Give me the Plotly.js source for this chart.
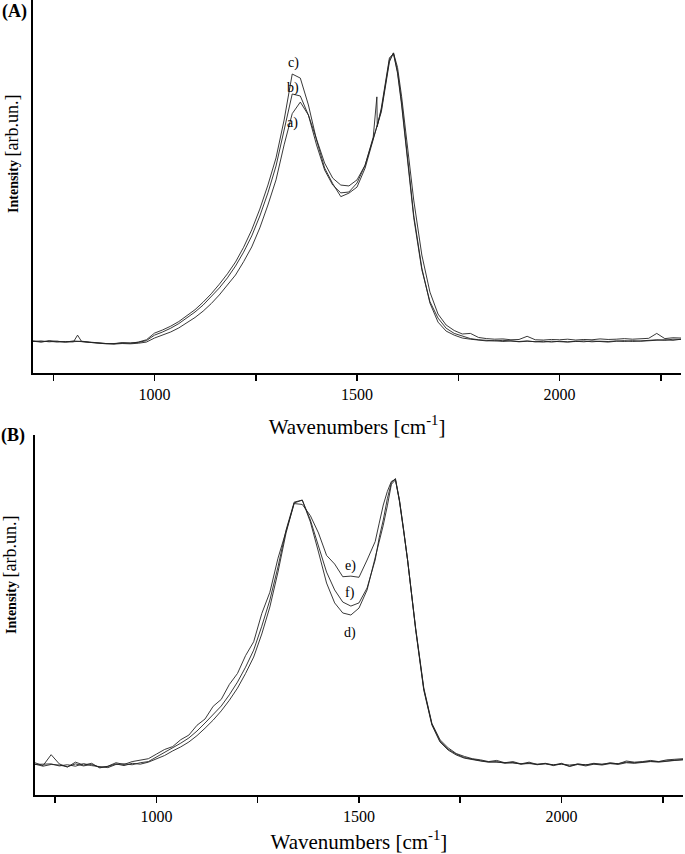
<!DOCTYPE html>
<html>
<head>
<meta charset="utf-8">
<script src="https://cdn.plot.ly/plotly-3.0.1.min.js"></script>
<style>
  html, body { margin: 0; padding: 0; background: #fff; }
  #ramanPlot { width: 685px; height: 854px; }
</style>
</head>
<body>
<div id="ramanPlot"></div>
<script>
// panel (A): spectra a), b), c), normalised to the G band
const wavenumbersA = [
  700, 720, 740, 760, 780, 800, 810, 820, 840, 860, 880, 900, 920, 940, 960, 980,
  1000, 1020, 1040, 1060, 1080, 1100, 1120, 1140, 1160, 1180,
  1200, 1220, 1240, 1260, 1280, 1300, 1320, 1340, 1360, 1380,
  1400, 1420, 1440, 1460, 1480, 1500, 1520, 1540, 1549, 1550, 1560, 1570, 1580, 1590, 1600, 1610, 1620, 1640, 1660, 1680,
  1700, 1720, 1740, 1760, 1780, 1800, 1820, 1840, 1860, 1880, 1900, 1920, 1940, 1960, 1980,
  2000, 2020, 2040, 2060, 2080, 2100, 2120, 2140, 2160, 2180, 2200, 2220, 2240, 2260, 2280, 2300,
];
const spectrumA_a = [
  0.004, 0.001, 0.003, 0.000, 0.002, 0.001, 0.024, 0.002, -0.001, -0.003, -0.006, -0.007, -0.005, -0.006, -0.004, 0.000,
  0.014, 0.024, 0.035, 0.049, 0.066, 0.085, 0.107, 0.133, 0.163, 0.196,
  0.232, 0.278, 0.329, 0.395, 0.474, 0.561, 0.682, 0.790, 0.830, 0.785,
  0.699, 0.619, 0.567, 0.543, 0.540, 0.561, 0.612, 0.699, 0.745, 0.750, 0.796, 0.880, 0.969, 1.000, 0.950, 0.850, 0.733, 0.491, 0.301, 0.173,
  0.097, 0.059, 0.040, 0.028, 0.030, 0.016, 0.012, 0.010, 0.011, 0.008, 0.009, 0.020, 0.008, 0.007, 0.009,
  0.008, 0.010, 0.007, 0.009, 0.008, 0.011, 0.009, 0.010, 0.012, 0.010, 0.011, 0.013, 0.030, 0.012, 0.015, 0.014,
];
const spectrumA_b = [
  0.002, 0.004, 0.001, 0.003, 0.000, 0.002, 0.002, 0.003, 0.000, -0.003, -0.005, -0.006, -0.002, -0.003, -0.001, 0.005,
  0.024, 0.035, 0.048, 0.064, 0.083, 0.104, 0.128, 0.156, 0.187, 0.222,
  0.263, 0.311, 0.367, 0.436, 0.516, 0.609, 0.734, 0.858, 0.851, 0.785,
  0.682, 0.595, 0.543, 0.516, 0.519, 0.550, 0.612, 0.709, 0.848, 0.745, 0.810, 0.892, 0.983, 0.997, 0.930, 0.820, 0.690, 0.430, 0.250, 0.140,
  0.083, 0.048, 0.030, 0.020, 0.012, 0.008, 0.006, 0.004, 0.006, 0.003, 0.002, 0.004, 0.001, 0.003, 0.000,
  0.003, 0.001, 0.002, 0.004, 0.001, 0.003, 0.002, 0.004, 0.002, 0.005, 0.003, 0.005, 0.007, 0.008, 0.006, 0.010,
];
const spectrumA_c = [
  0.003, 0.000, 0.005, 0.002, 0.000, 0.004, 0.003, 0.002, -0.002, -0.004, -0.006, -0.005, -0.003, -0.004, 0.000, 0.008,
  0.031, 0.042, 0.055, 0.071, 0.090, 0.112, 0.138, 0.167, 0.200, 0.236,
  0.277, 0.328, 0.388, 0.460, 0.543, 0.637, 0.768, 0.927, 0.913, 0.820,
  0.699, 0.602, 0.548, 0.503, 0.515, 0.536, 0.602, 0.699, 0.738, 0.750, 0.803, 0.889, 0.976, 1.000, 0.935, 0.830, 0.699, 0.439, 0.256, 0.135,
  0.069, 0.038, 0.024, 0.014, 0.010, 0.006, 0.004, 0.005, 0.002, 0.004, 0.001, 0.003, 0.002, 0.000, 0.003,
  0.002, 0.000, 0.003, 0.001, 0.004, 0.002, 0.000, 0.003, 0.005, 0.002, 0.004, 0.006, 0.008, 0.006, 0.010, 0.009,
];

// panel (B): spectra d), e), f)
const wavenumbersB = [
  700, 720, 740, 760, 780, 800, 820, 840, 860, 880, 900, 920, 940, 960, 980,
  1000, 1020, 1040, 1060, 1080, 1100, 1120, 1140, 1160, 1180,
  1200, 1220, 1240, 1260, 1280, 1300, 1320, 1340, 1360, 1380,
  1400, 1420, 1440, 1460, 1480, 1500, 1520, 1540,
  1550, 1560, 1570, 1580, 1590, 1600, 1610,
  1620, 1640, 1660, 1680, 1700, 1720, 1740, 1760, 1780, 1800, 1820, 1840, 1860, 1880, 1900, 1920, 1940, 1960, 1980,
  2000, 2020, 2040, 2060, 2080, 2100, 2120, 2140, 2160, 2180, 2200, 2220, 2240, 2260, 2280, 2300,
];
const spectrumB_d = [
  0.003, -0.004, 0.002, 0.000, -0.006, 0.004, -0.003, 0.002, -0.008, -0.005, 0.004, -0.002, 0.006, 0.003, 0.010,
  0.021, 0.033, 0.049, 0.063, 0.080, 0.102, 0.128, 0.156, 0.188, 0.225,
  0.267, 0.318, 0.375, 0.455, 0.549, 0.670, 0.806, 0.910, 0.920, 0.844,
  0.740, 0.632, 0.563, 0.528, 0.521, 0.545, 0.608, 0.719,
  0.775, 0.833, 0.900, 0.975, 0.990, 0.920, 0.820,
  0.712, 0.469, 0.260, 0.139, 0.080, 0.052, 0.035, 0.024, 0.018, 0.014, 0.010, 0.012, 0.006, 0.009, 0.003, 0.007, 0.001, 0.005, -0.002,
  0.004, -0.005, 0.002, -0.003, 0.003, 0.000, 0.005, 0.002, 0.008, 0.006, 0.010, 0.012, 0.010, 0.014, 0.016, 0.018,
];
const spectrumB_e = [
  0.008, -0.002, 0.036, 0.004, -0.007, 0.010, 0.000, 0.006, -0.010, -0.004, 0.008, 0.002, 0.012, 0.016, 0.022,
  0.038, 0.054, 0.064, 0.088, 0.104, 0.138, 0.160, 0.204, 0.228, 0.280,
  0.318, 0.380, 0.428, 0.526, 0.600, 0.718, 0.812, 0.908, 0.905, 0.866,
  0.806, 0.728, 0.698, 0.654, 0.656, 0.652, 0.712, 0.776,
  0.840, 0.903, 0.950, 0.985, 0.992, 0.915, 0.815,
  0.712, 0.475, 0.268, 0.145, 0.088, 0.060, 0.040, 0.030, 0.022, 0.018, 0.012, 0.016, 0.008, 0.012, 0.004, 0.010, 0.002, 0.006, 0.000,
  0.006, -0.004, 0.004, 0.000, 0.006, 0.002, 0.008, 0.004, 0.014, 0.010, 0.012, 0.016, 0.012, 0.018, 0.020, 0.022,
];
const spectrumB_f = [
  0.002, 0.003, 0.004, -0.003, 0.001, -0.004, 0.005, -0.002, -0.006, -0.009, 0.002, 0.004, 0.001, 0.008, 0.012,
  0.028, 0.042, 0.059, 0.076, 0.094, 0.118, 0.146, 0.174, 0.205, 0.244,
  0.288, 0.340, 0.399, 0.482, 0.573, 0.688, 0.816, 0.913, 0.920, 0.851,
  0.764, 0.670, 0.608, 0.566, 0.552, 0.563, 0.615, 0.712,
  0.790, 0.851, 0.925, 0.980, 0.995, 0.918, 0.818,
  0.712, 0.472, 0.264, 0.142, 0.083, 0.055, 0.038, 0.026, 0.020, 0.015, 0.011, 0.010, 0.008, 0.007, 0.004, 0.005, 0.003, 0.004, 0.001,
  0.003, 0.000, 0.003, 0.001, 0.004, 0.003, 0.006, 0.005, 0.010, 0.008, 0.011, 0.013, 0.012, 0.015, 0.017, 0.019,
];

const tickValues = [1000, 1500, 2000];
const tickLabels = ['1000', '1500', '2000'];
const minorTickValues = [750, 1250, 1750, 2250];

const serif = '"Liberation Serif", "Times New Roman", serif';
const lineStyle = {color: '#222', width: 0.9};

function trace(x, y, axis) {
  return {x: x, y: y, type: 'scatter', mode: 'lines', line: lineStyle, xaxis: 'x' + axis, yaxis: 'y' + axis, hoverinfo: 'skip'};
}

function xAxis(domain, anchor) {
  return {
    domain: domain, anchor: anchor, range: [700, 2300],
    tickmode: 'array', tickvals: tickValues, ticktext: tickLabels,
    ticks: 'outside', ticklen: 6, tickwidth: 1.5, tickcolor: '#000',
    minor: {tickmode: 'array', tickvals: minorTickValues, ticks: 'outside', ticklen: 6, tickwidth: 1.5, tickcolor: '#000', showgrid: false},
    tickfont: {family: serif, size: 16, color: '#000'},
    showline: true, linewidth: 2, linecolor: '#000',
    showgrid: false, zeroline: false,
    title: {text: 'Wavenumbers [cm<sup>-1</sup>]', font: {family: serif, size: 21, color: '#000'}, standoff: 17},
  };
}

function yAxis(domain, anchor, range) {
  return {
    domain: domain, anchor: anchor, range: range,
    showline: true, linewidth: 2, linecolor: '#000',
    showticklabels: false, ticks: '', showgrid: false, zeroline: false,
  };
}

function label(text, x, y, axis) {
  return {text: text, x: x, y: y, xref: 'x' + axis, yref: 'y' + axis, showarrow: false,
    font: {family: serif, size: 14, color: '#000'}};
}

function paperText(text, x, y, size, angle) {
  return {text: text, x: x, y: y, xref: 'paper', yref: 'paper', showarrow: false,
    xanchor: 'center', yanchor: 'middle', textangle: angle || 0,
    font: {family: serif, size: size, color: '#000'}};
}

const yTitle = '<b>Intensity</b> <span style="font-size:18px">[arb.un.]</span>';

const data = [
  trace(wavenumbersA, spectrumA_a, ''),
  trace(wavenumbersA, spectrumA_b, ''),
  trace(wavenumbersA, spectrumA_c, ''),
  trace(wavenumbersB, spectrumB_d, '2'),
  trace(wavenumbersB, spectrumB_e, '2'),
  trace(wavenumbersB, spectrumB_f, '2'),
];

const layout = {
  width: 685, height: 854,
  margin: {l: 33, r: 2, t: 0, b: 0},
  paper_bgcolor: '#fff', plot_bgcolor: '#fff',
  showlegend: false,
  xaxis: xAxis([0, 0.997], 'y'),
  yaxis: yAxis([0.5632, 1], 'x', [-0.107, 1.183]),
  xaxis2: xAxis([0.003, 1], 'y2'),
  yaxis2: yAxis([0.0691, 0.4906], 'x2', [-0.104, 1.146]),
  annotations: [
    label('c)', 1344, 0.965, ''),
    label('b)', 1342, 0.879, ''),
    label('a)', 1340, 0.758, ''),
    label('e)', 1478, 0.691, '2'),
    label('f)', 1478, 0.597, '2'),
    label('d)', 1478, 0.458, '2'),
    paperText('<b>(A)</b>', -0.029, 0.986, 18),
    paperText('<b>(B)</b>', -0.031, 0.4895, 18),
    paperText(yTitle, -0.0323, 0.8197, 14, -90),
    paperText(yTitle, -0.0354, 0.3267, 14, -90),
  ],
};

Plotly.newPlot('ramanPlot', data, layout, {staticPlot: true, displayModeBar: false});
</script>
</body>
</html>
